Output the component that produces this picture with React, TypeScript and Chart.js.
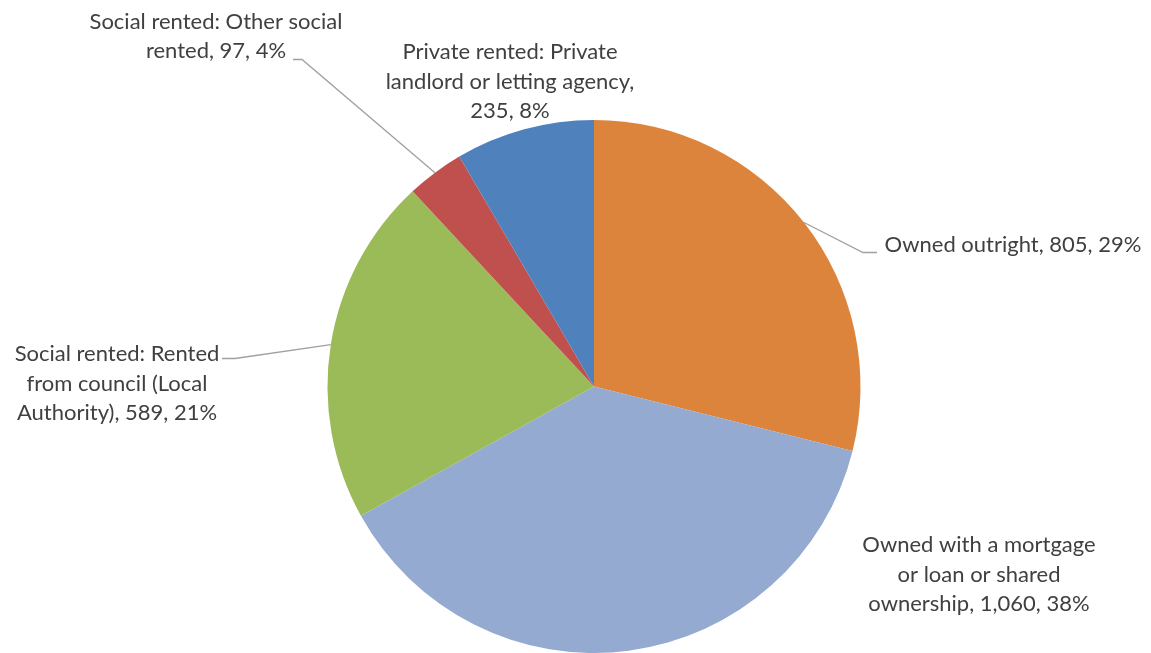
import React, { useEffect, useRef } from "react";
import { Chart, registerables } from "chart.js";

Chart.register(...registerables);

const categories = [
  "Owned outright",
  "Owned with a mortgage or loan or shared ownership",
  "Social rented: Rented from council (Local Authority)",
  "Social rented: Other social rented",
  "Private rented: Private landlord or letting agency",
];
const values = [805, 1060, 589, 97, 235];
const percents = [29, 38, 21, 4, 8];
const colors = ["#DD843C", "#94AAD1", "#9BBB59", "#C0504D", "#4F81BD"];
// words per wrapped line of each data label
const lineWords = [[4], [4, 4, 3], [3, 3, 3], [4, 3], [3, 4, 2]];

// label layout relative to pie centre (px)
const labelCenters = [
  [419, -142],
  [385, 188],
  [-477, -3],
  [-378, -350],
  [-84, -305],
];
// leader lines: [elbow, end] relative to pie centre, or null
const leaders: (number[][] | null)[] = [
  [[269, -134], [283, -134]],
  null,
  [[-359, -28], [-372, -28]],
  [[-292, -327], [-301, -327]],
  null,
];

const FONT = "22px Lato";
const LINE_H = 29.5;

const labelPlugin = {
  id: "pieLabels",
  afterDraw(chart: any) {
    const ctx = chart.ctx;
    const meta = chart.getDatasetMeta(0);
    ctx.save();
    meta.data.forEach((arc: any, i: number) => {
      const { x, y, startAngle, endAngle, outerRadius } = arc.getProps(
        ["x", "y", "startAngle", "endAngle", "outerRadius"],
        true
      );
      const mid = (startAngle + endAngle) / 2;
      const ld = leaders[i];
      if (ld) {
        ctx.strokeStyle = "#A0A0A0";
        ctx.lineWidth = 1.3;
        ctx.beginPath();
        ctx.moveTo(x + Math.cos(mid) * outerRadius, y + Math.sin(mid) * outerRadius);
        ctx.lineTo(x + ld[0][0], y + ld[0][1]);
        ctx.lineTo(x + ld[1][0], y + ld[1][1]);
        ctx.stroke();
      }
      const text = `${categories[i]}, ${values[i].toLocaleString("en-US")}, ${percents[i]}%`;
      const words = text.split(" ");
      const lines: string[] = [];
      let k = 0;
      for (const n of lineWords[i]) {
        lines.push(words.slice(k, k + n).join(" "));
        k += n;
      }
      ctx.font = FONT;
      ctx.fillStyle = "#404040";
      ctx.textAlign = "center";
      ctx.textBaseline = "middle";
      const cx = x + labelCenters[i][0];
      const cy = y + labelCenters[i][1];
      const top = cy - ((lines.length - 1) * LINE_H) / 2;
      lines.forEach((ln, j) => ctx.fillText(ln, cx, top + j * LINE_H));
    });
    ctx.restore();
  },
};

export default function App() {
  const ref = useRef<HTMLCanvasElement>(null);
  useEffect(() => {
    if (!ref.current) return;
    const chart = new Chart(ref.current, {
      type: "pie",
      data: {
        labels: categories,
        datasets: [
          {
            data: values,
            backgroundColor: colors,
            borderWidth: 0,
            hoverOffset: 0,
          },
        ],
      },
      options: {
        responsive: false,
        animation: false,
        layout: { padding: { top: 120, bottom: 0, left: 300, right: 263 } },
        plugins: {
          legend: { display: false },
          tooltip: { enabled: false },
        },
      },
      plugins: [labelPlugin],
    });
    return () => chart.destroy();
  }, []);
  return (
    <div style={{ position: "fixed", left: 0, top: 0, width: 1151, height: 653, background: "#fff" }}>
      <canvas ref={ref} width={1151} height={653} />
    </div>
  );
}
